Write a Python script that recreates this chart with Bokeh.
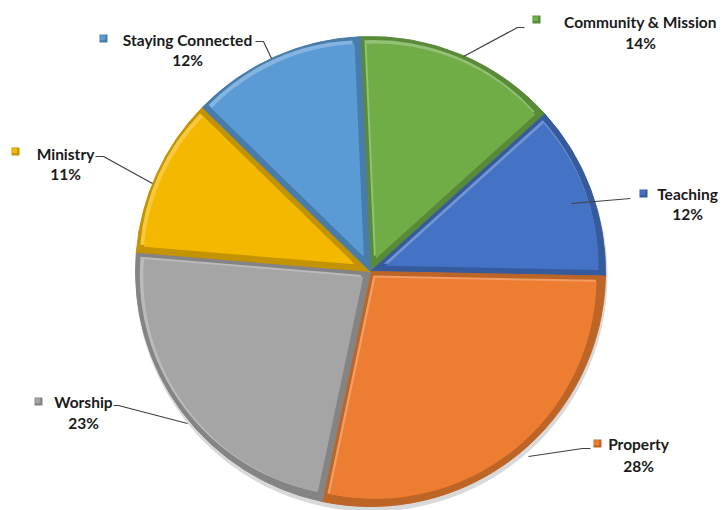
import numpy as np
from bokeh.plotting import figure
from bokeh.models import Range1d, ColumnDataSource
from bokeh.embed import file_html
from bokeh.resources import INLINE
from bokeh.core.properties import value

# ---- data ----
categories = ["Community & Mission", "Teaching", "Property", "Worship", "Ministry", "Staying Connected"]
percents = [14, 12, 28, 23, 11, 12]
pct_labels = ["14%", "12%", "28%", "23%", "11%", "12%"]

# ---- style ----
colors = ["#70AD47", "#4472C4", "#ED7D31", "#A5A5A5", "#F5B800", "#5B9BD5"]

W, H = 724, 510
# data coords: x = page x, y = 510 - page y
def Y(py):
    return 510 - py

p = figure(width=W, height=H, output_backend="svg", toolbar_location=None,
           x_range=Range1d(0, W), y_range=Range1d(0, H),
           min_border=0, background_fill_color="white", border_fill_color="white")
p.axis.visible = False
p.grid.visible = False
p.outline_line_color = None

cx, cy, R = 370, Y(271), 235
start_deg = 92.5

vals = np.array(percents, dtype=float)
cum = np.concatenate([[0], np.cumsum(vals)]) / vals.sum()
ends = np.deg2rad(start_deg - cum[:-1] * 360)
starts = np.deg2rad(start_deg - cum[1:] * 360)
mids = (starts + ends) / 2


def shade(hexc, f):
    h = hexc.lstrip("#")
    r, g, b = int(h[0:2], 16), int(h[2:4], 16), int(h[4:6], 16)
    if f < 1:
        r, g, b = int(r * f), int(g * f), int(b * f)
    else:
        t = f - 1
        r, g, b = int(r + (255 - r) * t), int(g + (255 - g) * t), int(b + (255 - b) * t)
    return "#%02x%02x%02x" % (r, g, b)

# soft shadow
p.circle(x=[cx + 1], y=[cy - 4], radius=R + 1, fill_color="#000000", fill_alpha=0.15, line_color=None)

d = 6.0
theta = ends - starts
shift = d / np.sin(theta / 2)
icx = cx + shift * np.cos(mids)
icy = cy + shift * np.sin(mids)
ir = R - d - shift

dark = [shade(c, 0.8) for c in colors]
light = [shade(c, 1.25) for c in colors]

p.wedge(x=cx, y=cy, radius=R, start_angle=starts, end_angle=ends,
        fill_color=dark, line_color=dark, line_width=1)
p.wedge(x=icx - 2.0, y=icy + 2.0, radius=ir + 1.5, start_angle=starts, end_angle=ends,
        fill_color=light, line_color=None)
p.wedge(x=icx, y=icy, radius=ir, start_angle=starts, end_angle=ends,
        fill_color=colors, line_color=None)

# ---- labels (layout constants, page coords) ----
name_cx = [640, 687, 638, 83, 65, 187]
name_y = [21, 193, 443, 401, 153, 39]
pct_y = [42, 213, 465, 422, 173, 59]
mark_x = [536, 643, 597, 38, 15, 103]
mark_y = [19, 193, 443, 401, 151, 38]
leaders = [
    ([463, 517, 524], [56, 27, 27]),
    ([571, 630], [203, 198]),
    ([528, 582, 590], [456, 448, 448]),
    ([187, 118, 113], [423, 405, 405]),
    ([152, 103, 95], [183, 156, 156]),
    ([271, 263, 255], [58, 41, 41]),
]

for (lx, ly) in leaders:
    p.line(x=lx, y=[Y(v) for v in ly], line_color="#404040", line_width=1.2)

p.scatter(x=mark_x, y=[Y(v) for v in mark_y], marker="square", size=8,
          fill_color=dark, line_color=None)
p.scatter(x=[m - 0.8 for m in mark_x], y=[Y(v) + 0.8 for v in mark_y], marker="square", size=5,
          fill_color=colors, line_color=None)

src = ColumnDataSource(dict(x=name_cx, y=[Y(v) for v in name_y], t=categories,
                            y2=[Y(v) for v in pct_y], t2=pct_labels))
p.text(x="x", y="y", text="t", source=src, text_align="center", text_baseline="middle",
       text_font=value("Lato"), text_font_style="bold", text_font_size="15.5px", text_color="#1a1a1a")
p.text(x="x", y="y2", text="t2", source=src, text_align="center", text_baseline="middle",
       text_font=value("Lato"), text_font_style="bold", text_font_size="15.5px", text_color="#1a1a1a")

open("out.html", "w").write(file_html(p, INLINE))
